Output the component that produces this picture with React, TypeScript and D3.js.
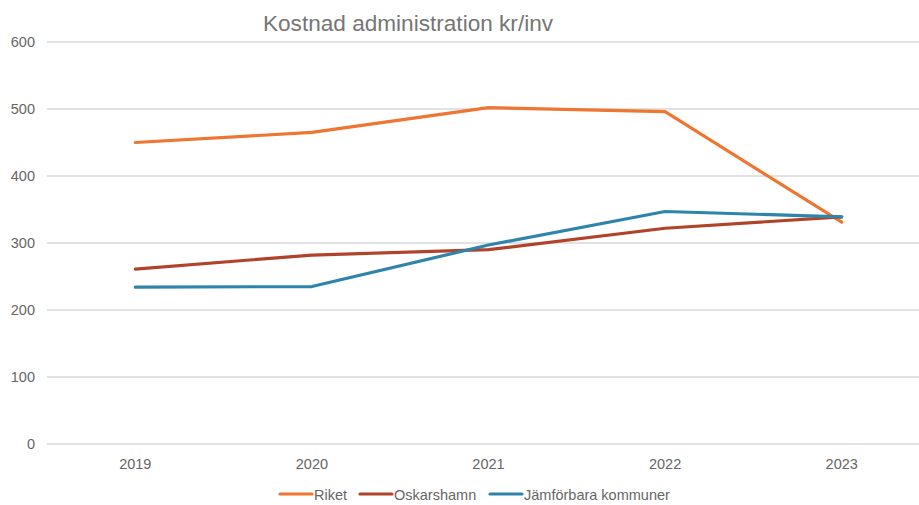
import React from "react";
import * as d3 from "d3";

const years = ["2019", "2020", "2021", "2022", "2023"];
const riket = [450, 465, 502, 496, 331];
const oskarshamn = [261, 282, 290, 322, 339];
const jamforbara = [234, 235, 297, 347, 339];
const yTicks = [0, 100, 200, 300, 400, 500, 600];

const series = [
  { name: "Riket", values: riket, color: "#EE7631" },
  { name: "Oskarshamn", values: oskarshamn, color: "#B2432B" },
  { name: "Jämförbara kommuner", values: jamforbara, color: "#2E84AA" },
];

const W = 919;
const H = 505;
const FONT = "'Liberation Sans', Arial, sans-serif";

export default function App() {
  const x = d3.scalePoint<string>().domain(years).range([47, 930]).padding(0.5);
  const y = d3.scaleLinear().domain([0, 600]).range([444, 42]);
  const line = d3
    .line<number>()
    .x((_, i) => x(years[i]) as number)
    .y((d) => y(d));

  const legendX = [280, 360, 490];

  return (
    <svg
      width={W}
      height={H}
      style={{ position: "absolute", left: 0, top: 0, background: "#fff" }}
      fontFamily={FONT}
    >
      <text x={408} y={30.5} textAnchor="middle" fontSize={22.6} fill="#767676">
        Kostnad administration kr/inv
      </text>
      {yTicks.map((t) => (
        <g key={t}>
          <line x1={47} x2={919} y1={y(t)} y2={y(t)} stroke="#D9D9D9" strokeWidth={1.3} />
          <text x={35} y={y(t) + 5} textAnchor="end" fontSize={14.5} fill="#666666">
            {t}
          </text>
        </g>
      ))}
      {years.map((yr) => (
        <text key={yr} x={x(yr)} y={469} textAnchor="middle" fontSize={14.5} fill="#666666">
          {yr}
        </text>
      ))}
      {series.map((s) => (
        <path
          key={s.name}
          d={line(s.values) || ""}
          fill="none"
          stroke={s.color}
          strokeWidth={3.2}
          strokeLinejoin="round"
          strokeLinecap="round"
        />
      ))}
      {series.map((s, i) => (
        <g key={s.name}>
          <line
            x1={legendX[i]}
            x2={legendX[i] + 32}
            y1={494}
            y2={494}
            stroke={s.color}
            strokeWidth={3.2}
            strokeLinecap="round"
          />
          <text x={legendX[i] + 34} y={499.5} fontSize={14.5} fill="#666666">
            {s.name}
          </text>
        </g>
      ))}
    </svg>
  );
}
